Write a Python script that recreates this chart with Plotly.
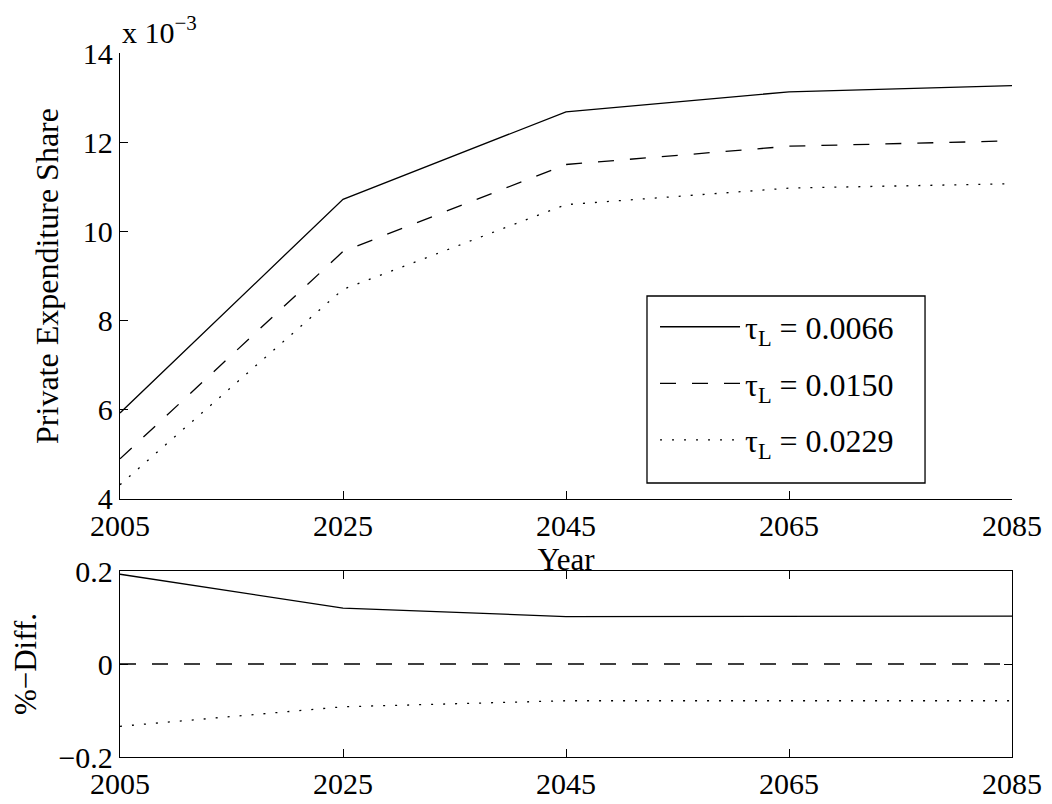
import plotly.graph_objects as go
from plotly.subplots import make_subplots

FONT = "Liberation Serif"

years = [2005, 2025, 2045, 2065, 2085]

# private expenditure share (x 10^-3) for the three tau_L values
share_low = [5.93, 10.72, 12.68, 13.13, 13.27]
share_mid = [4.90, 9.55, 11.50, 11.91, 12.03]
share_high = [4.32, 8.70, 10.60, 10.97, 11.07]

# percent difference relative to the middle case
diff_low = [0.193, 0.120, 0.102, 0.102, 0.103]
diff_mid = [0.0, 0.0, 0.0, 0.0, 0.0]
diff_high = [-0.134, -0.092, -0.079, -0.079, -0.079]

labels = ["τ<sub>L</sub> = 0.0066", "τ<sub>L</sub> = 0.0150", "τ<sub>L</sub> = 0.0229"]
dashes = ["solid", "16px,16px", "2px,10px"]

fig = make_subplots(rows=2, cols=1)

for ys, name, dash in zip([share_low, share_mid, share_high], labels, dashes):
    fig.add_trace(
        go.Scatter(x=years, y=ys, mode="lines", name=name, legendgroup=name,
                   line=dict(color="black", width=1.3, dash=dash)),
        row=1, col=1,
    )

for ys, name, dash in zip([diff_low, diff_mid, diff_high], labels, dashes):
    fig.add_trace(
        go.Scatter(x=years, y=ys, mode="lines", name=name, showlegend=False,
                   line=dict(color="black", width=1.3, dash=dash)),
        row=2, col=1,
    )

axis_common = dict(
    showline=True, linecolor="black", linewidth=1.3, ticks="inside", ticklen=8,
    tickcolor="black", showgrid=False, zeroline=False, automargin=False,
    tickfont=dict(family=FONT, size=30, color="black"),
)

fig.update_xaxes(axis_common)
fig.update_yaxes(axis_common)

fig.update_xaxes(range=[2005, 2085], tickvals=years, domain=[0, 1], row=1, col=1,
                 title=dict(text="Year", font=dict(family=FONT, size=31, color="black"), standoff=0))
fig.update_xaxes(range=[2005, 2085], tickvals=years, domain=[0, 1], mirror="ticks", row=2, col=1)
fig.update_yaxes(range=[4, 14], tickvals=[4, 6, 8, 10, 12, 14], domain=[0.3665, 1], row=1, col=1,
                 title=dict(text="Private Expenditure Share", font=dict(family=FONT, size=32, color="black"),
                            standoff=14))
fig.update_yaxes(range=[-0.2, 0.2], tickvals=[-0.2, 0, 0.2], ticktext=["−0.2", "0", "0.2"],
                 domain=[0, 0.2642], mirror="ticks", row=2, col=1,
                 title=dict(text="%−Diff.", font=dict(family=FONT, size=31, color="black"), standoff=13))

fig.add_annotation(x=0, y=1, xref="paper", yref="paper", xanchor="left", yanchor="bottom",
                   text="x 10<sup>−3</sup>", showarrow=False, yshift=2,
                   font=dict(family=FONT, size=30, color="black"))

# legend frame, drawn a bit roomier than plotly's own border
fig.add_shape(type="rect", xref="paper", yref="paper", x0=0.5908, x1=0.9025, y0=0.3892, y1=0.6548,
              line=dict(color="black", width=1.3), fillcolor="white", layer="below")

fig.update_layout(
    width=1052, height=804,
    margin=dict(l=112, r=48, t=45, b=55),
    paper_bgcolor="white", plot_bgcolor="white",
    font=dict(family=FONT, color="black"),
    legend=dict(x=0.5998, y=0.6499, xanchor="left", yanchor="top",
                borderwidth=0, bgcolor="rgba(0,0,0,0)",
                font=dict(family=FONT, size=32, color="black"),
                itemwidth=80, tracegroupgap=12),
)

fig.write_html("out.html")
